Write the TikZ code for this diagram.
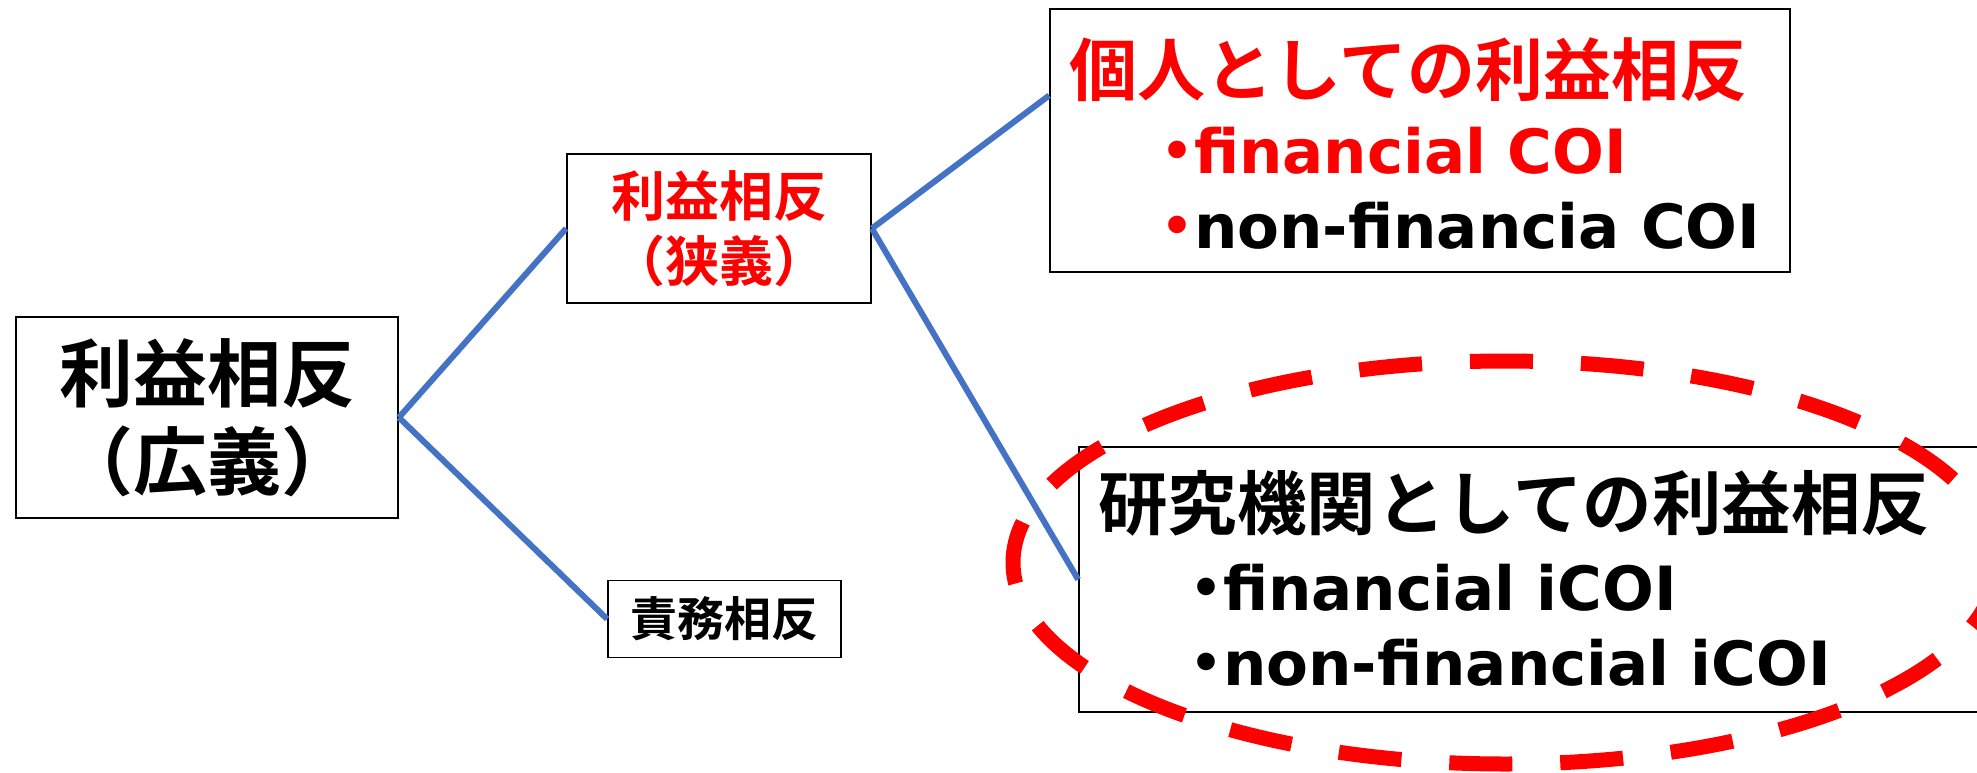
\documentclass[tikz,border=0pt]{standalone}
\usepackage{fontspec}
\usetikzlibrary{calc}
\newfontfamily\jpfont{Noto Sans CJK JP Bold}
\newfontfamily\latfont{DejaVu Sans Bold}
\definecolor{blueline}{HTML}{4472C4}
\definecolor{redc}{HTML}{FF0000}
\newcommand\bdot{\raisebox{5pt}{\fontsize{50}{50}\selectfont •}\hspace{1pt}}
\tikzset{
  box/.style={draw=black, line width=1.8pt, rectangle, inner sep=0pt, align=center},
  conn/.style={draw=blueline, line width=6pt},
  ring/.style={draw=redc, line width=15pt, dash pattern=on 63pt off 48pt, dash phase=14pt},
  jptext/.style={inner sep=0pt, anchor=west},
  lattext/.style={inner sep=0pt, anchor=base west, font=\latfont\fontsize{61}{70}\selectfont},
}
\begin{document}
\begin{tikzpicture}[x=1pt,y=-1pt]
\clip (0,0) rectangle (1977,773);
\fill[white] (0,0) rectangle (1977,773);

% boxes
\node[box, minimum width=382pt, minimum height=201pt, font=\jpfont\fontsize{74}{88}\selectfont] (b1) at (207,417.5) {利益相反\\（広義）};
\node[box, minimum width=304pt, minimum height=149pt, text=redc, font=\jpfont\fontsize{54}{65}\selectfont] (b2) at (719,228.5) {利益相反\\（狭義）};
\node[box, minimum width=233pt, minimum height=77pt, font=\jpfont\fontsize{47}{56}\selectfont] (b3) at (724.5,619) {責務相反};
\node[box, minimum width=740pt, minimum height=263pt] (b4) at (1420,140.5) {};
\node[box, minimum width=1021pt, minimum height=265pt] (b5) at (1589.5,579.5) {};

% texts of box 4
\node[jptext, text=redc, font=\jpfont\fontsize{68}{80}\selectfont] (h4) at (1069,70) {個人としての利益相反};
\node[lattext, text=redc] (l4a) at (1161,173) {\bdot financial COI};
\node[lattext, text=black] (l4b) at (1161,248) {\textcolor{redc}{\bdot}non-financia COI};

% texts of box 5
\node[jptext, font=\jpfont\fontsize{69.5}{80}\selectfont] (h5) at (1098,503) {研究機関としての利益相反};
\node[lattext] (l5a) at (1190,610) {\bdot financial iCOI};
\node[lattext] (l5b) at (1190,685) {\bdot non-financial iCOI};

% dashed ring
\draw[ring] (1505,562.5) ellipse [x radius=492pt, y radius=201.5pt];

% connectors
\coordinate (b4in) at ($(b4.north west)!0.33!(b4.south west)$);
\draw[conn] (b1.east) -- (b2.west);
\draw[conn] (b1.east) -- (b3.west);
\draw[conn] (b2.east) -- (b4in);
\draw[conn] (b2.east) -- (b5.west);
\end{tikzpicture}
\end{document}
